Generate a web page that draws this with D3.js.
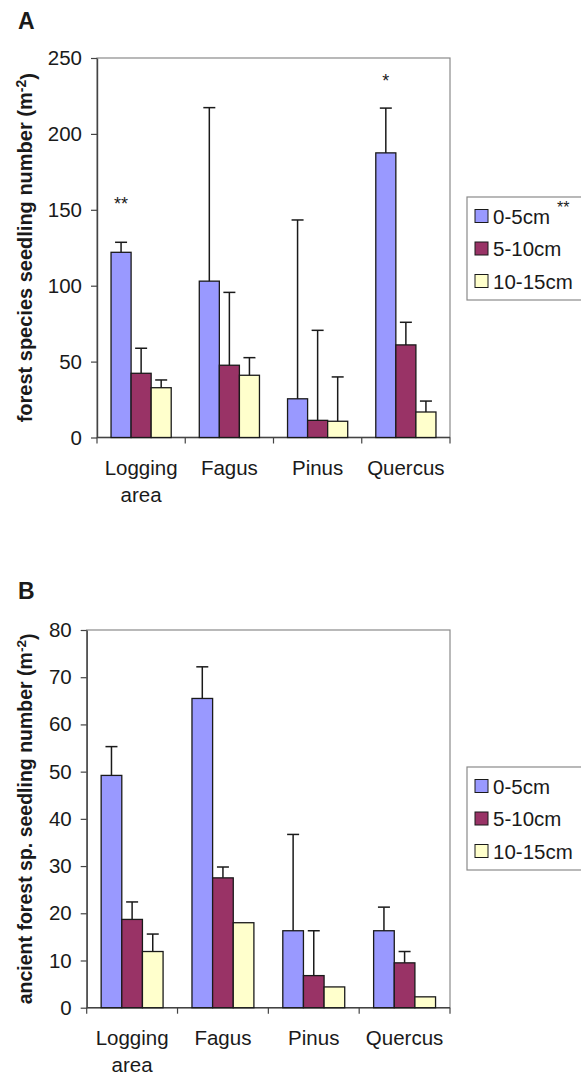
<!DOCTYPE html>
<html>
<head>
<meta charset="utf-8">
<script src="https://cdn.jsdelivr.net/npm/d3@7"></script>
<style>
  body { margin: 0; background: #fff; }
  svg { display: block; font-family: "Liberation Sans", Arial, sans-serif; }
</style>
</head>
<body>
<svg id="fig" width="581" height="1077"></svg>
<script>
// categories + series
var categories = ["Logging area", "Fagus", "Pinus", "Quercus"];
var seriesNames = ["0-5cm", "5-10cm", "10-15cm"];
var seriesColors = ["#9999ff", "#993366", "#ffffcc"];

// panel A : forest species seedlings (m-2)
var meanA_0_5 = [122, 103, 25.5, 187.5];
var meanA_5_10 = [42.3, 47.6, 11.3, 61];
var meanA_10_15 = [32.8, 41, 10.7, 16.8];
var errA_0_5 = [6.6, 114.3, 117.8, 29.5];
var errA_5_10 = [16.5, 48, 59.3, 14.9];
var errA_10_15 = [5.1, 11.6, 29.2, 7.2];
var ticksA = [0, 50, 100, 150, 200, 250];
var starsA = [
	{cat: "Logging area", series: 0, value: 156, text: "**"},
	{cat: "Quercus", series: 0, value: 237, text: "*"}
];

// panel B : ancient forest sp. seedlings (m-2)
var meanB_0_5 = [49.2, 65.5, 16.3, 16.3];
var meanB_5_10 = [18.7, 27.5, 6.8, 9.5];
var meanB_10_15 = [11.9, 18.0, 4.4, 2.3];
var errB_0_5 = [6.1, 6.7, 20.4, 5.0];
var errB_5_10 = [3.7, 2.3, 9.5, 2.4];
var errB_10_15 = [3.7, 0, 0, 0];
var ticksB = [0, 10, 20, 30, 40, 50, 60, 70, 80];

var svg = d3.select("#fig");
var textCol = "#1a1a1a";

/**@function drawPanel
* draws one lettered bar chart panel with upper error bars and a legend
*/
function drawPanel(cfg){
	var g = svg.append("g");

	var x = d3.scaleBand().domain(categories).range([cfg.left, cfg.right]).paddingInner(0).paddingOuter(0);
	var xs = d3.scaleBand().domain(d3.range(seriesNames.length)).range([0, x.bandwidth()])
		.paddingInner(0).paddingOuter(0.7);
	var y = d3.scaleLinear().domain([0, cfg.max]).range([cfg.bottom, cfg.top]);

	//panel letter
	g.append("text")
		.attr("x", 18).attr("y", cfg.titleY)
		.style("font-size", "23px").style("font-weight", "bold").style("fill", textCol)
		.text(cfg.title);

	//plot frame (top + right grey)
	g.append("rect")
		.attr("x", cfg.left).attr("y", cfg.top)
		.attr("width", cfg.right - cfg.left).attr("height", cfg.bottom - cfg.top)
		.style("fill", "none").style("stroke", "#8a8a8a").style("stroke-width", 1.2);

	//y axis
	var yAxis = g.append("g")
		.attr("transform", "translate(" + cfg.left + ",0)")
		.call(d3.axisLeft(y).tickValues(cfg.ticks).tickSize(6).tickSizeOuter(0).tickPadding(9));
	yAxis.select(".domain").style("stroke", "#444").style("stroke-width", 1.4);
	yAxis.selectAll(".tick line").style("stroke", "#444").style("stroke-width", 1.2);
	yAxis.selectAll(".tick text")
		.style("font-size", "20.5px").style("font-family", "Liberation Sans, Arial, sans-serif")
		.style("fill", textCol);

	//x axis, ticks at category boundaries
	var bounds = categories.map(function(c){ return x(c); }).concat([cfg.right]);
	var xAxis = g.append("g").attr("class", "x-axis");
	xAxis.append("line")
		.attr("x1", cfg.left).attr("x2", cfg.right)
		.attr("y1", cfg.bottom).attr("y2", cfg.bottom)
		.style("stroke", "#444").style("stroke-width", 1.4);
	xAxis.selectAll(".xtick")
		.data(bounds)
		.enter()
		.append("line")
		.attr("class", "xtick")
		.attr("x1", function(d){ return d; }).attr("x2", function(d){ return d; })
		.attr("y1", cfg.bottom).attr("y2", cfg.bottom + 6)
		.style("stroke", "#444").style("stroke-width", 1.2);

	var lbl = xAxis.selectAll(".xlabel")
		.data(categories)
		.enter()
		.append("text")
		.attr("class", "xlabel")
		.attr("text-anchor", "middle")
		.style("font-size", "20.5px").style("fill", textCol);
	lbl.each(function(c){
		var words = c.split(" ");
		var t = d3.select(this);
		words.forEach(function(w, i){
			t.append("tspan")
				.attr("x", x(c) + x.bandwidth()/2)
				.attr("y", cfg.bottom + 37.5 + i*26.5)
				.text(w);
		});
	});

	//bars
	var rows = [];
	cfg.means.forEach(function(arr, si){
		arr.forEach(function(v, ci){
			rows.push({cat: categories[ci], s: si, v: v, e: cfg.errs[si][ci]});
		});
	});

	var bars = g.selectAll(".bar")
		.data(rows)
		.enter()
		.append("rect")
		.attr("class", "bar")
		.attr("x", function(d){ return x(d.cat) + xs(d.s); })
		.attr("y", function(d){ return y(d.v); })
		.attr("width", xs.bandwidth())
		.attr("height", function(d){ return y(0) - y(d.v); })
		.style("fill", function(d){ return seriesColors[d.s]; })
		.style("stroke", "#1a1a1a").style("stroke-width", 1.3);

	//error bars (upper only)
	var eb = g.selectAll(".err")
		.data(rows.filter(function(d){ return d.e > 0; }))
		.enter()
		.append("g")
		.attr("class", "err")
		.style("stroke", "#1a1a1a").style("stroke-width", 1.5);
	eb.append("line")
		.attr("x1", function(d){ return x(d.cat) + xs(d.s) + xs.bandwidth()/2; })
		.attr("x2", function(d){ return x(d.cat) + xs(d.s) + xs.bandwidth()/2; })
		.attr("y1", function(d){ return y(d.v); })
		.attr("y2", function(d){ return y(d.v + d.e); });
	eb.append("line")
		.attr("x1", function(d){ return x(d.cat) + xs(d.s) + xs.bandwidth()/2 - 6; })
		.attr("x2", function(d){ return x(d.cat) + xs(d.s) + xs.bandwidth()/2 + 6; })
		.attr("y1", function(d){ return y(d.v + d.e); })
		.attr("y2", function(d){ return y(d.v + d.e); });

	//significance stars
	g.selectAll(".star")
		.data(cfg.stars || [])
		.enter()
		.append("text")
		.attr("class", "star")
		.attr("text-anchor", "middle")
		.attr("x", function(d){ return x(d.cat) + xs(d.series) + xs.bandwidth()/2; })
		.attr("y", function(d){ return y(d.value) + 9; })
		.style("font-size", "18px").style("fill", textCol)
		.text(function(d){ return d.text; });

	//y axis label, rotated
	var yl = g.append("text")
		.attr("transform", "translate(" + 32 + "," + ((cfg.top + cfg.bottom)/2) + ") rotate(-90)")
		.attr("text-anchor", "middle")
		.style("font-size", cfg.labelSize + "px").style("font-weight", "bold").style("fill", textCol);
	yl.append("tspan").text(cfg.yLabel + " (m");
	yl.append("tspan").attr("dy", "-0.45em").style("font-size", "0.7em").text("-2");
	yl.append("tspan").attr("dy", "0.45em").text(")");

	//legend
	var lg = g.append("g").attr("transform", "translate(467," + cfg.legendTop + ")");
	lg.append("rect")
		.attr("x", 0).attr("y", 0).attr("width", 140).attr("height", 103)
		.style("fill", "#fff").style("stroke", "#8a8a8a").style("stroke-width", 1.2);
	var entry = lg.selectAll(".entry")
		.data(seriesNames)
		.enter()
		.append("g")
		.attr("class", "entry")
		.attr("transform", function(d, i){ return "translate(0," + (19 + i*32.5) + ")"; });
	entry.append("rect")
		.attr("x", 8).attr("y", -6.5).attr("width", 13).attr("height", 13)
		.style("fill", function(d, i){ return seriesColors[i]; })
		.style("stroke", "#1a1a1a").style("stroke-width", 1);
	entry.append("text")
		.attr("x", 26).attr("y", 7.5)
		.style("font-size", "20.5px").style("fill", textCol)
		.text(function(d){ return d; });
	if(cfg.legendStar){
		lg.append("text")
			.attr("x", 90).attr("y", 16)
			.style("font-size", "16px").style("fill", textCol)
			.text(cfg.legendStar);
	}
}

drawPanel({
	title: "A", titleY: 29,
	left: 97, right: 450, top: 58, bottom: 437.5, max: 250,
	ticks: ticksA,
	means: [meanA_0_5, meanA_5_10, meanA_10_15],
	errs: [errA_0_5, errA_5_10, errA_10_15],
	stars: starsA,
	yLabel: "forest species seedling number", labelSize: 20,
	legendTop: 197, legendStar: "**"
});

drawPanel({
	title: "B", titleY: 599,
	left: 86.7, right: 450, top: 630, bottom: 1007.7, max: 80,
	ticks: ticksB,
	means: [meanB_0_5, meanB_5_10, meanB_10_15],
	errs: [errB_0_5, errB_5_10, errB_10_15],
	stars: [],
	yLabel: "ancient forest sp. seedling number", labelSize: 19.5,
	legendTop: 767
});
</script>
</body>
</html>
